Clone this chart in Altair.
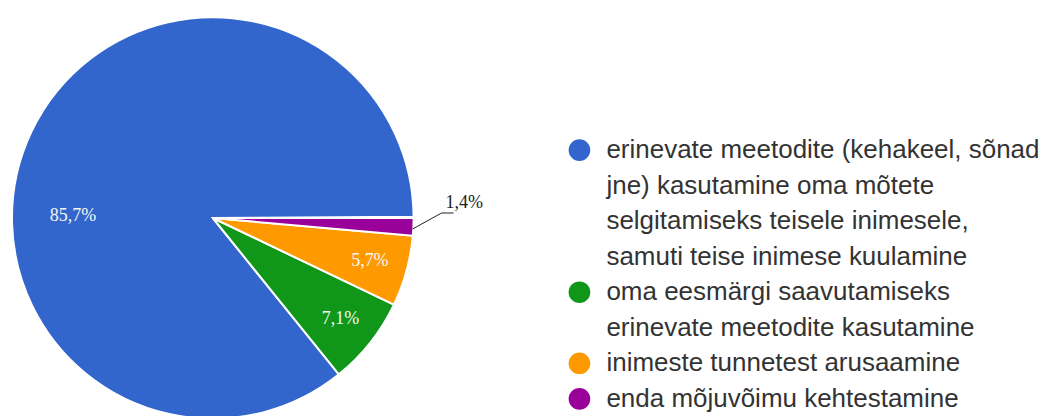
import math
import altair as alt
import pandas as pd

# ---- data ----
categories = [
    "erinevate meetodite (kehakeel, sõnad jne) kasutamine oma mõtete selgitamiseks teisele inimesele, samuti teise inimese kuulamine",
    "oma eesmärgi saavutamiseks erinevate meetodite kasutamine",
    "inimeste tunnetest arusaamine",
    "enda mõjuvõimu kehtestamine",
]
shares = [85.7, 7.1, 5.7, 1.4]
share_labels = ["85,7%", "7,1%", "5,7%", "1,4%"]
clockwise_rank = [3, 2, 1, 0]          # drawn clockwise from 3 o'clock: purple, orange, green, blue
colors = ["#3366cc", "#109618", "#ff9900", "#990099"]

legend_lines = [
    "erinevate meetodite (kehakeel, sõnad",
    "jne) kasutamine oma mõtete",
    "selgitamiseks teisele inimesele,",
    "samuti teise inimese kuulamine",
    "oma eesmärgi saavutamiseks",
    "erinevate meetodite kasutamine",
    "inimeste tunnetest arusaamine",
    "enda mõjuvõimu kehtestamine",
]
legend_line_category = [0, 0, 0, 0, 1, 1, 2, 3]
legend_first_line = [1, 0, 0, 0, 1, 0, 1, 1]

# ---- tables ----
pie_df = pd.DataFrame({
    "category": categories,
    "share": shares,
    "label": share_labels,
    "rank": clockwise_rank,
})
legend_df = pd.DataFrame({
    "line": list(range(len(legend_lines))),
    "text": legend_lines,
    "category": [categories[i] for i in legend_line_category],
    "first": legend_first_line,
})
deco_df = pd.DataFrame({"k": [0]})

color_scale = alt.Scale(domain=categories, range=colors)
theta_scale = alt.Scale(domain=[0, 100], range=[math.pi / 2, math.pi / 2 + 2 * math.pi])
CX, CY = 205, 210
R = 201

arcs = alt.Chart(pie_df).mark_arc(radius=R, stroke="white", strokeWidth=2).encode(
    theta=alt.Theta("share:Q", stack=True, scale=theta_scale),
    order=alt.Order("rank:Q", sort="ascending"),
    color=alt.Color("category:N", scale=color_scale, legend=None),
    x=alt.value(CX),
    y=alt.value(CY),
)

# mid-angle of each slice, computed from the same data
label_base = alt.Chart(pie_df).transform_window(
    cum="sum(share)", sort=[alt.SortField("rank", order="ascending")]
).transform_calculate(
    mid="datum.cum - datum.share / 2"
)


def label_layer(cond, radius, dy, color):
    return label_base.transform_filter(cond).mark_text(
        radius=radius, dy=dy, font="Liberation Serif", fontSize=18, color=color
    ).encode(
        theta=alt.Theta("mid:Q", stack=None, scale=theta_scale),
        x=alt.value(CX),
        y=alt.value(CY),
        text="label:N",
    )


inner_labels = label_layer("datum.share > 3 && datum.share < 50", 163, 0, "#f4f8f0")
big_label = label_layer("datum.share >= 50", 155, 64, "#f4f8f0")
outer_label = label_layer("datum.share <= 3", 252, -26, "#222222")

leader_diag = alt.Chart(deco_df).mark_rule(color="#222222", strokeWidth=1).encode(
    x=alt.value(CX + 200), y=alt.value(CY + 11), x2=alt.value(CX + 229), y2=alt.value(CY - 5)
)
leader_flat = alt.Chart(deco_df).mark_rule(color="#222222", strokeWidth=1).encode(
    x=alt.value(CX + 229), y=alt.value(CY - 5), x2=alt.value(CX + 241), y2=alt.value(CY - 5)
)

pie = alt.layer(arcs, inner_labels, big_label, outer_label, leader_diag, leader_flat).properties(
    width=480, height=420
)

y_enc = alt.Y("line:Q", axis=None, scale=alt.Scale(domain=[0, 7], range=[142, 391]))

legend_dots = alt.Chart(legend_df).transform_filter("datum.first == 1").mark_circle(
    size=470, opacity=1
).encode(
    x=alt.value(92),
    y=y_enc,
    color=alt.Color("category:N", scale=color_scale, legend=None),
)

legend_text = alt.Chart(legend_df).mark_text(
    align="left", baseline="middle", font="Liberation Sans", fontSize=26, color="#333333"
).encode(
    x=alt.value(119),
    y=y_enc,
    text="text:N",
)

legend = alt.layer(legend_dots, legend_text).properties(width=552, height=420)

chart = alt.hconcat(pie, legend, spacing=0).properties(padding=0).configure_view(stroke=None)

chart.save("out.html", embed_options={"renderer": "svg", "actions": False})
